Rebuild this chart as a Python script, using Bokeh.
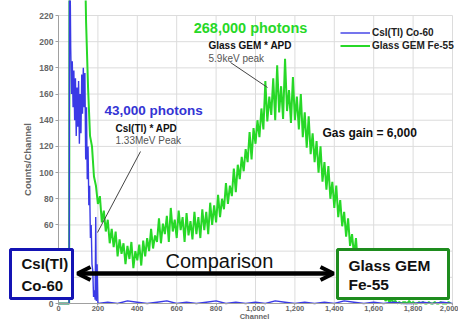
from bokeh.plotting import figure
from bokeh.models import (Label, BoxAnnotation, Arrow, OpenHead, NumeralTickFormatter,
                          Legend, LegendItem, FixedTicker, Range1d)
from bokeh.embed import file_html
from bokeh.resources import INLINE

FONT = "Liberation Sans"

# ---------------- data ----------------
green_label = "Glass GEM Fe-55"
blue_label = "CsI(Tl) Co-60"

green_channel = [0, 54, 56] + list(range(60, 2000, 10))
green_counts = [0, 0, 300,
    300, 300, 300, 300, 300, 300, 300, 300,
    215, 165, 128, 120, 97, 90, 76, 82, 62, 71,
    55, 64, 46, 57, 43, 55, 36, 49, 38, 46,
    30, 44, 34, 47, 27, 40, 33, 45, 29, 48,
    36, 50, 40, 57, 42, 52, 47, 65, 46, 61,
    53, 67, 47, 73, 55, 64, 50, 71, 56, 66,
    47, 69, 52, 63, 49, 70, 53, 66, 50, 72,
    56, 70, 53, 77, 60, 75, 62, 83, 66, 80,
    72, 92, 76, 90, 82, 103, 85, 106, 95, 112,
    101, 118, 108, 131, 110, 134, 122, 140, 127, 149,
    133, 170, 139, 158, 144, 172, 140, 182, 146, 166,
    141, 187, 147, 163, 138, 173, 140, 158, 133, 160,
    127, 146, 119, 143, 114, 130, 108, 124, 100, 120,
    93, 108, 87, 105, 80, 93, 73, 90, 66, 79,
    59, 70, 51, 65, 44, 53, 37, 50, 29, 39,
    24, 31, 18, 27, 12, 18, 9, 15, 6, 9,
    3, 6, 2, 4, 1, 3, 1,
    2, 0, 1, 0, 1, 1, 0, 2, 0, 1, 0, 0, 1, 0, 1, 0, 0, 1, 0, 0,
    1, 0, 0, 1, 0, 0, 0, 1, 0]

blue_channel = [0, 54, 56, 62, 66, 70, 74, 78, 82, 86,
                90, 94, 98, 102, 106, 110, 114, 118, 122, 126,
                130, 134, 138, 142, 146, 150, 154, 158, 162, 166,
                170, 174, 178, 182, 186, 189, 192, 196, 200] + list(range(250, 2001, 50))
blue_counts = [0, 0, 300, 195, 160, 185, 150, 178, 140, 172,
               128, 165, 135, 170, 122, 160, 130, 175, 145, 180,
               150, 176, 110, 150, 95, 120, 75, 90, 50, 60,
               30, 25, 5, 10, 3, 66, 2, 30, 0,
               1, 0, 2, 1, 0, 1, 2, 0, 1, 0, 1, 2, 0, 1, 0, 1, 0, 2,
               1, 0, 1, 0, 1, 0, 2, 1, 0, 1, 0, 1, 0, 0, 1, 0, 1, 0]

x_ticks = [0, 200, 400, 600, 800, 1000, 1200, 1400, 1600, 1800, 2000]
y_ticks = [0, 20, 40, 60, 80, 100, 120, 140, 160, 180, 200, 220]

GREEN = "#27d827"
BLUE = "#3a3ae6"
GRID = "#dcdcdc"

# ---------------- helpers: picture pixel -> data units ----------------
PX0, PX_PER = 58.0, 394.0 / 2000
PY0, PY_PER = 303.0, 288.0 / 220

def X(px):
    return (px - PX0) / PX_PER

def Y(py):
    return (PY0 - py) / PY_PER

W, H = 458, 320
p = figure(width=W, height=H, x_range=Range1d(X(0), X(W)), y_range=Range1d(Y(H), Y(0)),
           output_backend="svg", toolbar_location=None,
           min_border_left=0, min_border_right=0, min_border_top=0, min_border_bottom=0)
p.outline_line_color = None
p.background_fill_color = "white"
p.border_fill_color = "white"
p.xgrid.visible = False
p.ygrid.visible = False

for ax in (p.xaxis, p.yaxis):
    ax.major_label_text_font = FONT
    ax.major_label_text_font_style = "bold"
    ax.major_label_text_color = "#666666"
    ax.axis_line_color = "#a0a0a0"
    ax.major_tick_line_color = "#a0a0a0"
    ax.minor_tick_line_color = None
    ax.major_tick_in = 0

p.xaxis.major_label_text_font_size = "7.5px"
p.yaxis.major_label_text_font_size = "8.5px"
p.xaxis.fixed_location = 0
p.yaxis.fixed_location = 0
p.xaxis.bounds = (0, 2000)
p.yaxis.bounds = (0, 220)
p.xaxis.ticker = FixedTicker(ticks=x_ticks)
p.yaxis.ticker = FixedTicker(ticks=y_ticks)
p.xaxis.formatter = NumeralTickFormatter(format="0,0")
p.xaxis.major_tick_out = 2
p.xaxis.major_label_standoff = 0
p.yaxis.major_tick_out = 3
p.yaxis.major_label_standoff = 2
p.yaxis.axis_label = "Counts/Channel"
p.yaxis.axis_label_text_font = FONT
p.yaxis.axis_label_text_font_size = "9.5px"
p.yaxis.axis_label_text_font_style = "bold"
p.yaxis.axis_label_text_color = "#666666"
p.yaxis.axis_label_standoff = 3

# grid lines limited to the data area
p.segment(x0=x_ticks, y0=[0] * len(x_ticks), x1=x_ticks, y1=[220] * len(x_ticks),
          line_color=GRID, line_width=1)
p.segment(x0=[0] * len(y_ticks), y0=y_ticks, x1=[2000] * len(y_ticks), y1=y_ticks,
          line_color=GRID, line_width=1)

g = p.line(green_channel, green_counts, line_color=GREEN, line_width=2.0)
b = p.line(blue_channel, blue_counts, line_color=BLUE, line_width=1.4)

legend = Legend(items=[LegendItem(label=blue_label, renderers=[b]),
                       LegendItem(label=green_label, renderers=[g])],
                location=(340, 268))
legend.label_text_font = FONT
legend.label_text_font_size = "10px"
legend.label_text_font_style = "bold"
legend.label_text_color = "#222222"
legend.glyph_width = 30
legend.glyph_height = 13
legend.label_height = 13
legend.label_standoff = 2
legend.spacing = 0
legend.padding = 0
legend.margin = 0
legend.border_line_color = None
legend.background_fill_alpha = 0
p.add_layout(legend)

def label(px, py, text, size, color="#111111", style="normal", align="left"):
    p.add_layout(Label(x=X(px), y=Y(py), text=text, text_font=FONT, text_font_size=size,
                       text_color=color, text_font_style=style, text_align=align,
                       text_baseline="middle"))

label(250, 27, "268,000 photons", "14.5px", GREEN, "bold", "center")
label(208, 45, "Glass GEM * APD", "10px", "#111111", "bold")
label(208, 58, "5.9keV peak", "10px", "#555555")
label(104, 110, "43,000 photons", "13.5px", "#3434d4", "bold")
label(115, 128, "CsI(Tl) * APD", "10px", "#111111", "bold")
label(115, 140, "1.33MeV Peak", "10px", "#555555")
label(322, 132, "Gas gain = 6,000", "12px", "#111111", "bold")
label(254, 316, "Channel", "7.5px", "#666666", "bold", "center")

p.segment(x0=[X(230), X(140)], y0=[Y(62), Y(151)], x1=[X(267), X(97)], y1=[Y(87), Y(232)],
          line_color="#444444", line_width=1)

p.add_layout(BoxAnnotation(left=X(10), right=X(72), top=Y(249), bottom=Y(298),
                           fill_color="white", fill_alpha=1,
                           line_color="#1414b4", line_width=3, line_alpha=1))
p.add_layout(BoxAnnotation(left=X(337), right=X(448), top=Y(249), bottom=Y(298),
                           fill_color="white", fill_alpha=1,
                           line_color="#1e8c1e", line_width=3, line_alpha=1))

p.add_layout(Arrow(start=OpenHead(size=13, line_width=4), end=OpenHead(size=13, line_width=4),
                   x_start=X(77), y_start=Y(273), x_end=X(333), y_end=Y(273),
                   line_width=4.5, line_color="black"))

label(165, 260, "Comparison", "20px", "#111111")
label(21, 263, "CsI(Tl)", "15px", "#111111", "bold")
label(21, 285, "Co-60", "15px", "#111111", "bold")
label(348, 265, "Glass GEM", "15.5px", "#111111", "bold")
label(348, 284, "Fe-55", "15.5px", "#111111", "bold")

open("out.html", "w").write(file_html(p, INLINE))
